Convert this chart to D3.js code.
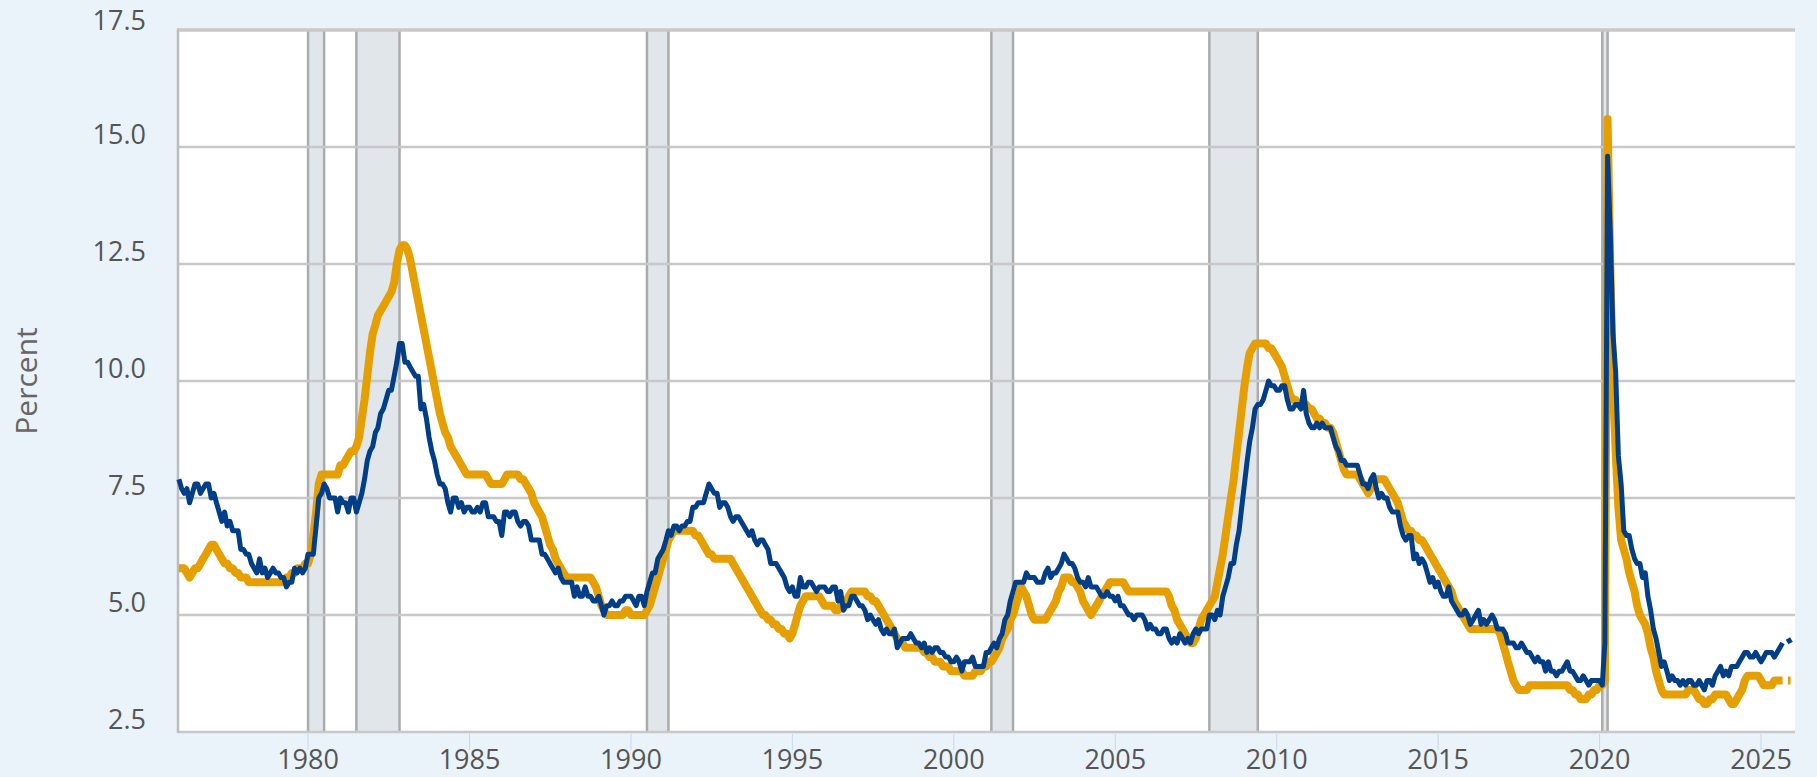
<!DOCTYPE html>
<html>
<head>
<meta charset="utf-8">
<script src="https://cdn.jsdelivr.net/npm/d3@7"></script>
<style>
  body { margin: 0; background: #eaf2fa; }
  svg { display: block; font-family: "Open Sans", "Noto Sans", sans-serif; }
</style>
</head>
<body>
<svg id="chart" width="1817" height="777"></svg>
<script>
// monthly series, January 1976 onwards (one row per year)
const startYear = 1976

const blueRate = [
  7.9, 7.7, 7.6, 7.7, 7.4, 7.6, 7.8, 7.8, 7.6, 7.7, 7.8, 7.8,
  7.5, 7.6, 7.4, 7.2, 7.0, 7.2, 6.9, 7.0, 6.8, 6.8, 6.8, 6.4,
  6.4, 6.3, 6.3, 6.1, 6.0, 5.9, 6.2, 5.9, 6.0, 5.8, 5.9, 6.0,
  5.9, 5.9, 5.8, 5.8, 5.6, 5.7, 5.7, 6.0, 5.9, 6.0, 5.9, 6.0,
  6.3, 6.3, 6.3, 6.9, 7.5, 7.6, 7.8, 7.7, 7.5, 7.5, 7.5, 7.2,
  7.5, 7.4, 7.4, 7.2, 7.5, 7.5, 7.2, 7.4, 7.6, 7.9, 8.3, 8.5,
  8.6, 8.9, 9.0, 9.3, 9.4, 9.6, 9.8, 9.8, 10.1, 10.4, 10.8, 10.8,
  10.4, 10.4, 10.3, 10.2, 10.1, 10.1, 9.4, 9.5, 9.2, 8.8, 8.5, 8.3,
  8.0, 7.8, 7.8, 7.7, 7.4, 7.2, 7.5, 7.5, 7.3, 7.4, 7.2, 7.3,
  7.3, 7.2, 7.2, 7.3, 7.2, 7.4, 7.4, 7.1, 7.1, 7.1, 7.0, 7.0,
  6.7, 7.2, 7.2, 7.1, 7.2, 7.2, 7.0, 6.9, 7.0, 7.0, 6.9, 6.6,
  6.6, 6.6, 6.6, 6.3, 6.3, 6.2, 6.1, 6.0, 5.9, 6.0, 5.8, 5.7,
  5.7, 5.7, 5.7, 5.4, 5.6, 5.4, 5.4, 5.6, 5.4, 5.4, 5.3, 5.3,
  5.4, 5.2, 5.0, 5.2, 5.2, 5.3, 5.2, 5.2, 5.3, 5.3, 5.4, 5.4,
  5.4, 5.3, 5.2, 5.4, 5.4, 5.2, 5.5, 5.7, 5.9, 5.9, 6.2, 6.3,
  6.4, 6.6, 6.8, 6.7, 6.9, 6.9, 6.8, 6.9, 6.9, 7.0, 7.0, 7.3,
  7.3, 7.4, 7.4, 7.4, 7.6, 7.8, 7.7, 7.6, 7.6, 7.3, 7.4, 7.4,
  7.3, 7.1, 7.0, 7.1, 7.1, 7.0, 6.9, 6.8, 6.7, 6.8, 6.6, 6.5,
  6.6, 6.6, 6.5, 6.4, 6.1, 6.1, 6.1, 6.0, 5.9, 5.8, 5.6, 5.5,
  5.6, 5.4, 5.4, 5.8, 5.6, 5.6, 5.7, 5.7, 5.6, 5.5, 5.6, 5.6,
  5.6, 5.5, 5.5, 5.6, 5.6, 5.3, 5.5, 5.1, 5.2, 5.2, 5.4, 5.4,
  5.3, 5.2, 5.2, 5.1, 4.9, 5.0, 4.9, 4.8, 4.9, 4.7, 4.6, 4.7,
  4.6, 4.6, 4.7, 4.3, 4.4, 4.5, 4.5, 4.5, 4.6, 4.5, 4.4, 4.4,
  4.3, 4.4, 4.2, 4.3, 4.2, 4.3, 4.3, 4.2, 4.2, 4.1, 4.1, 4.0,
  4.0, 4.1, 4.0, 3.8, 4.0, 4.0, 4.0, 4.1, 3.9, 3.9, 3.9, 3.9,
  4.2, 4.2, 4.3, 4.4, 4.3, 4.5, 4.6, 4.9, 5.0, 5.3, 5.5, 5.7,
  5.7, 5.7, 5.7, 5.9, 5.8, 5.8, 5.8, 5.7, 5.7, 5.7, 5.9, 6.0,
  5.8, 5.9, 5.9, 6.0, 6.1, 6.3, 6.2, 6.1, 6.1, 6.0, 5.8, 5.7,
  5.7, 5.6, 5.8, 5.6, 5.6, 5.6, 5.5, 5.4, 5.4, 5.5, 5.4, 5.4,
  5.3, 5.4, 5.2, 5.2, 5.1, 5.0, 5.0, 4.9, 5.0, 5.0, 5.0, 4.9,
  4.7, 4.8, 4.7, 4.7, 4.6, 4.6, 4.7, 4.7, 4.5, 4.4, 4.5, 4.4,
  4.6, 4.5, 4.4, 4.5, 4.4, 4.6, 4.7, 4.6, 4.7, 4.7, 4.7, 5.0,
  5.0, 4.9, 5.1, 5.0, 5.4, 5.6, 5.8, 6.1, 6.1, 6.5, 6.8, 7.3,
  7.8, 8.3, 8.7, 9.0, 9.4, 9.5, 9.5, 9.6, 9.8, 10.0, 9.9, 9.9,
  9.8, 9.8, 9.9, 9.9, 9.6, 9.4, 9.4, 9.5, 9.5, 9.4, 9.8, 9.3,
  9.1, 9.0, 9.0, 9.1, 9.0, 9.1, 9.0, 9.0, 9.0, 8.8, 8.6, 8.5,
  8.3, 8.3, 8.2, 8.2, 8.2, 8.2, 8.2, 8.0, 7.8, 7.8, 7.7, 7.9,
  8.0, 7.7, 7.5, 7.6, 7.5, 7.5, 7.3, 7.2, 7.2, 7.2, 6.9, 6.7,
  6.6, 6.7, 6.7, 6.2, 6.3, 6.1, 6.2, 6.1, 5.9, 5.7, 5.8, 5.6,
  5.7, 5.5, 5.4, 5.4, 5.6, 5.3, 5.2, 5.1, 5.0, 5.0, 5.1, 5.0,
  4.8, 4.9, 5.0, 5.1, 4.8, 4.9, 4.8, 4.9, 5.0, 4.9, 4.7, 4.7,
  4.7, 4.6, 4.4, 4.4, 4.4, 4.3, 4.3, 4.4, 4.3, 4.2, 4.2, 4.1,
  4.0, 4.1, 4.0, 4.0, 3.8, 4.0, 3.8, 3.8, 3.7, 3.8, 3.8, 3.9,
  4.0, 3.8, 3.8, 3.7, 3.6, 3.6, 3.7, 3.6, 3.5, 3.6, 3.6, 3.6,
  3.6, 3.5, 4.4, 14.8, 13.2, 11.0, 10.2, 8.4, 7.8, 6.8, 6.7, 6.7,
  6.4, 6.2, 6.1, 6.1, 5.8, 5.9, 5.4, 5.1, 4.7, 4.5, 4.2, 3.9,
  4.0, 3.8, 3.6, 3.7, 3.6, 3.6, 3.5, 3.6, 3.5, 3.6, 3.6, 3.5,
  3.5, 3.6, 3.5, 3.4, 3.6, 3.6, 3.5, 3.7, 3.8, 3.9, 3.7, 3.8,
  3.7, 3.9, 3.9, 3.9, 4.0, 4.1, 4.2, 4.2, 4.1, 4.1, 4.2, 4.1,
  4.0, 4.1, 4.2, 4.2, 4.2, 4.1, 4.2, 4.3, 4.4, null, 4.5, 4.4
]

const orangeRate = [
  6.0, 6.0, 6.0, 5.9, 5.8, 5.9, 6.0, 6.0, 6.1, 6.2, 6.3, 6.4,
  6.5, 6.5, 6.4, 6.3, 6.2, 6.1, 6.1, 6.0, 6.0, 5.9, 5.9, 5.8,
  5.8, 5.8, 5.7, 5.7, 5.7, 5.7, 5.7, 5.7, 5.7, 5.7, 5.7, 5.7,
  5.7, 5.7, 5.7, 5.7, 5.8, 5.8, 5.9, 5.9, 6.0, 6.0, 6.0, 6.1,
  6.1, 6.3, 6.7, 7.2, 7.8, 8.0, 8.0, 8.0, 8.0, 8.0, 8.0, 8.0,
  8.2, 8.2, 8.3, 8.4, 8.5, 8.5, 8.6, 8.8, 9.2, 9.6, 10.1, 10.6,
  11.0, 11.2, 11.4, 11.5, 11.6, 11.7, 11.8, 11.9, 12.1, 12.5, 12.8, 12.9,
  12.9, 12.8, 12.6, 12.3, 12.0, 11.7, 11.4, 11.1, 10.8, 10.5, 10.2, 9.9,
  9.6, 9.3, 9.1, 8.9, 8.8, 8.6, 8.5, 8.4, 8.3, 8.2, 8.1, 8.0,
  8.0, 8.0, 8.0, 8.0, 8.0, 8.0, 8.0, 7.9, 7.8, 7.8, 7.8, 7.8,
  7.8, 7.9, 8.0, 8.0, 8.0, 8.0, 8.0, 7.9, 7.9, 7.8, 7.7, 7.6,
  7.4, 7.3, 7.2, 7.1, 6.9, 6.7, 6.5, 6.4, 6.2, 6.1, 6.0, 5.9,
  5.8, 5.8, 5.8, 5.8, 5.8, 5.8, 5.8, 5.8, 5.8, 5.8, 5.7, 5.6,
  5.4, 5.2, 5.1, 5.0, 5.0, 5.0, 5.0, 5.0, 5.0, 5.0, 5.1, 5.1,
  5.0, 5.0, 5.0, 5.0, 5.0, 5.0, 5.1, 5.2, 5.4, 5.6, 5.8, 6.0,
  6.2, 6.4, 6.6, 6.7, 6.8, 6.8, 6.8, 6.8, 6.8, 6.8, 6.8, 6.8,
  6.7, 6.7, 6.6, 6.5, 6.4, 6.3, 6.3, 6.2, 6.2, 6.2, 6.2, 6.2,
  6.2, 6.2, 6.1, 6.0, 5.9, 5.8, 5.7, 5.6, 5.5, 5.4, 5.3, 5.2,
  5.1, 5.0, 5.0, 4.9, 4.9, 4.8, 4.8, 4.7, 4.7, 4.6, 4.6, 4.5,
  4.6, 4.8, 5.0, 5.2, 5.3, 5.4, 5.4, 5.4, 5.4, 5.4, 5.4, 5.3,
  5.2, 5.2, 5.2, 5.2, 5.1, 5.1, 5.2, 5.3, 5.3, 5.4, 5.5, 5.5,
  5.5, 5.5, 5.5, 5.5, 5.4, 5.4, 5.3, 5.3, 5.2, 5.1, 5.0, 4.9,
  4.8, 4.7, 4.6, 4.5, 4.4, 4.4, 4.3, 4.3, 4.3, 4.3, 4.3, 4.3,
  4.3, 4.2, 4.2, 4.1, 4.1, 4.0, 4.0, 4.0, 3.9, 3.9, 3.9, 3.8,
  3.8, 3.8, 3.8, 3.8, 3.7, 3.7, 3.7, 3.7, 3.8, 3.8, 3.8, 3.9,
  3.9, 4.0, 4.0, 4.1, 4.2, 4.3, 4.5, 4.6, 4.7, 4.9, 5.0, 5.2,
  5.4, 5.6, 5.5, 5.4, 5.2, 5.0, 4.9, 4.9, 4.9, 4.9, 4.9, 5.0,
  5.1, 5.2, 5.3, 5.5, 5.6, 5.8, 5.8, 5.8, 5.7, 5.7, 5.6, 5.5,
  5.3, 5.2, 5.1, 5.0, 5.1, 5.2, 5.3, 5.4, 5.5, 5.6, 5.7, 5.7,
  5.7, 5.7, 5.7, 5.7, 5.6, 5.5, 5.5, 5.5, 5.5, 5.5, 5.5, 5.5,
  5.5, 5.5, 5.5, 5.5, 5.5, 5.5, 5.5, 5.5, 5.4, 5.2, 5.1, 4.9,
  4.8, 4.7, 4.6, 4.5, 4.4, 4.4, 4.5, 4.7, 4.9, 5.0, 5.1, 5.2,
  5.3, 5.4, 5.7, 6.0, 6.3, 6.7, 7.1, 7.5, 7.9, 8.4, 8.9, 9.4,
  9.9, 10.3, 10.6, 10.7, 10.8, 10.8, 10.8, 10.8, 10.8, 10.7, 10.7, 10.6,
  10.5, 10.4, 10.3, 10.1, 9.9, 9.7, 9.6, 9.6, 9.5, 9.5, 9.5, 9.5,
  9.4, 9.4, 9.3, 9.2, 9.2, 9.1, 9.1, 9.0, 9.0, 8.9, 8.7, 8.5,
  8.3, 8.1, 8.0, 8.0, 8.0, 8.0, 8.0, 7.9, 7.8, 7.7, 7.6, 7.7,
  7.8, 7.9, 7.9, 7.9, 7.9, 7.8, 7.7, 7.6, 7.5, 7.4, 7.2, 7.0,
  6.9, 6.8, 6.8, 6.7, 6.7, 6.6, 6.6, 6.5, 6.4, 6.3, 6.2, 6.1,
  6.0, 5.9, 5.8, 5.7, 5.6, 5.5, 5.3, 5.2, 5.1, 5.0, 4.9, 4.8,
  4.7, 4.7, 4.7, 4.7, 4.7, 4.7, 4.7, 4.7, 4.7, 4.7, 4.7, 4.6,
  4.4, 4.2, 4.0, 3.8, 3.6, 3.5, 3.4, 3.4, 3.4, 3.4, 3.5, 3.5,
  3.5, 3.5, 3.5, 3.5, 3.5, 3.5, 3.5, 3.5, 3.5, 3.5, 3.5, 3.5,
  3.5, 3.4, 3.4, 3.3, 3.3, 3.2, 3.2, 3.2, 3.3, 3.3, 3.4, 3.4,
  3.5, 3.5, 3.6, 15.6, 12.5, 10.0, 8.5, 7.3, 6.6, 6.4, 6.2, 5.9,
  5.7, 5.5, 5.2, 5.0, 4.9, 4.8, 4.6, 4.3, 4.1, 3.8, 3.6, 3.4,
  3.3, 3.3, 3.3, 3.3, 3.3, 3.3, 3.3, 3.3, 3.3, 3.4, 3.4, 3.4,
  3.3, 3.2, 3.2, 3.1, 3.1, 3.2, 3.2, 3.3, 3.3, 3.3, 3.3, 3.3,
  3.2, 3.1, 3.1, 3.2, 3.3, 3.4, 3.6, 3.7, 3.7, 3.7, 3.7, 3.7,
  3.6, 3.5, 3.5, 3.5, 3.5, 3.6, 3.6, 3.6, 3.6, null, 3.6, 3.6
]

// shaded periods [start, end]
const recessions = [
  ['1980-01-01', '1980-07-01'],
  ['1981-07-01', '1982-11-01'],
  ['1990-07-01', '1991-03-01'],
  ['2001-03-01', '2001-11-01'],
  ['2007-12-01', '2009-06-01'],
  ['2020-02-01', '2020-04-01']
]

const yTicks = [2.5, 5, 7.5, 10, 12.5, 15, 17.5]
const xTicks = [1980, 1985, 1990, 1995, 2000, 2005, 2010, 2015, 2020, 2025]
const yTitle = 'Percent'

// layout
const W = 1817, H = 777
const margin = {top: 30, right: 22, bottom: 45, left: 178}
const width = W - margin.left - margin.right
const height = H - margin.top - margin.bottom

const parse = d3.timeParse('%Y-%m-%d')
const toSeries = arr => arr.map((v, i) => ({date: new Date(startYear, i, 1), value: v}))

const x = d3.scaleTime()
  .domain([new Date(1975, 11, 22), new Date(2026, 0, 20)])
  .range([0, width])

const y = d3.scaleLinear()
  .domain([2.5, 17.5])
  .range([height, 0])

const svg = d3.select('#chart')

svg.append('rect')
  .attr('width', W).attr('height', H)
  .attr('fill', '#eaf2fa')

const g = svg.append('g')
  .attr('transform', `translate(${margin.left},${margin.top})`)

// plot background
g.append('rect')
  .attr('width', width).attr('height', height)
  .attr('fill', '#ffffff')

// recession bands
const bands = g.append('g')
recessions.forEach(([a, b]) => {
  const x0 = x(parse(a)), x1 = x(parse(b))
  bands.append('rect')
    .attr('x', x0).attr('y', 0)
    .attr('width', x1 - x0).attr('height', height)
    .attr('fill', '#e1e6eb')
  bands.selectAll(null)
    .data([x0, x1])
    .join('line')
      .attr('x1', d => d).attr('x2', d => d)
      .attr('y1', 0).attr('y2', height)
      .attr('stroke', '#ababab')
      .attr('stroke-width', 2.5)
})

// horizontal grid
g.append('g')
  .selectAll('line')
  .data(yTicks)
  .join('line')
    .attr('x1', 0).attr('x2', width)
    .attr('y1', d => y(d)).attr('y2', d => y(d))
    .attr('stroke', '#c8c8c8')
    .attr('stroke-width', d => d === 17.5 ? 3.5 : 2.5)

// y axis line
g.append('line')
  .attr('x1', 0).attr('x2', 0)
  .attr('y1', -1.5).attr('y2', height + 1)
  .attr('stroke', '#bdbdbd')
  .attr('stroke-width', 2.5)

// y labels (top one kept inside the picture)
g.append('g')
  .selectAll('text')
  .data(yTicks)
  .join('text')
    .attr('x', -32)
    .attr('y', d => Math.max(y(d) - 3.5, 29.5 - margin.top))
    .attr('text-anchor', 'end')
    .attr('font-size', 27)
    .attr('fill', '#555555')
    .text(d3.format('.1f'))

// x axis ticks + labels
const xAxis = g.append('g').attr('transform', `translate(0,${height})`)
xAxis.selectAll('line')
  .data(xTicks)
  .join('line')
    .attr('x1', d => x(new Date(d, 0, 1))).attr('x2', d => x(new Date(d, 0, 1)))
    .attr('y1', 2).attr('y2', 18)
    .attr('stroke', '#ccd6eb')
    .attr('stroke-width', 1)
xAxis.selectAll('text')
  .data(xTicks)
  .join('text')
    .attr('x', d => x(new Date(d, 0, 1)))
    .attr('y', 37)
    .attr('text-anchor', 'middle')
    .attr('font-size', 27)
    .attr('fill', '#555555')
    .text(d => d)

// y title
svg.append('text')
  .attr('transform', 'translate(37,381) rotate(-90)')
  .attr('text-anchor', 'middle')
  .attr('font-size', 30)
  .attr('fill', '#666666')
  .text(yTitle)

// lines
const line = d3.line()
  .defined(d => d.value != null)
  .x(d => x(d.date))
  .y(d => y(d.value))

g.append('path')
  .datum(toSeries(orangeRate))
  .attr('fill', 'none')
  .attr('stroke', '#e69f00')
  .attr('stroke-width', 8)
  .attr('stroke-linejoin', 'round')
  .attr('d', line)

g.append('path')
  .datum(toSeries(blueRate))
  .attr('fill', 'none')
  .attr('stroke', '#003f88')
  .attr('stroke-width', 5)
  .attr('stroke-linejoin', 'round')
  .attr('d', line)
</script>
</body>
</html>
